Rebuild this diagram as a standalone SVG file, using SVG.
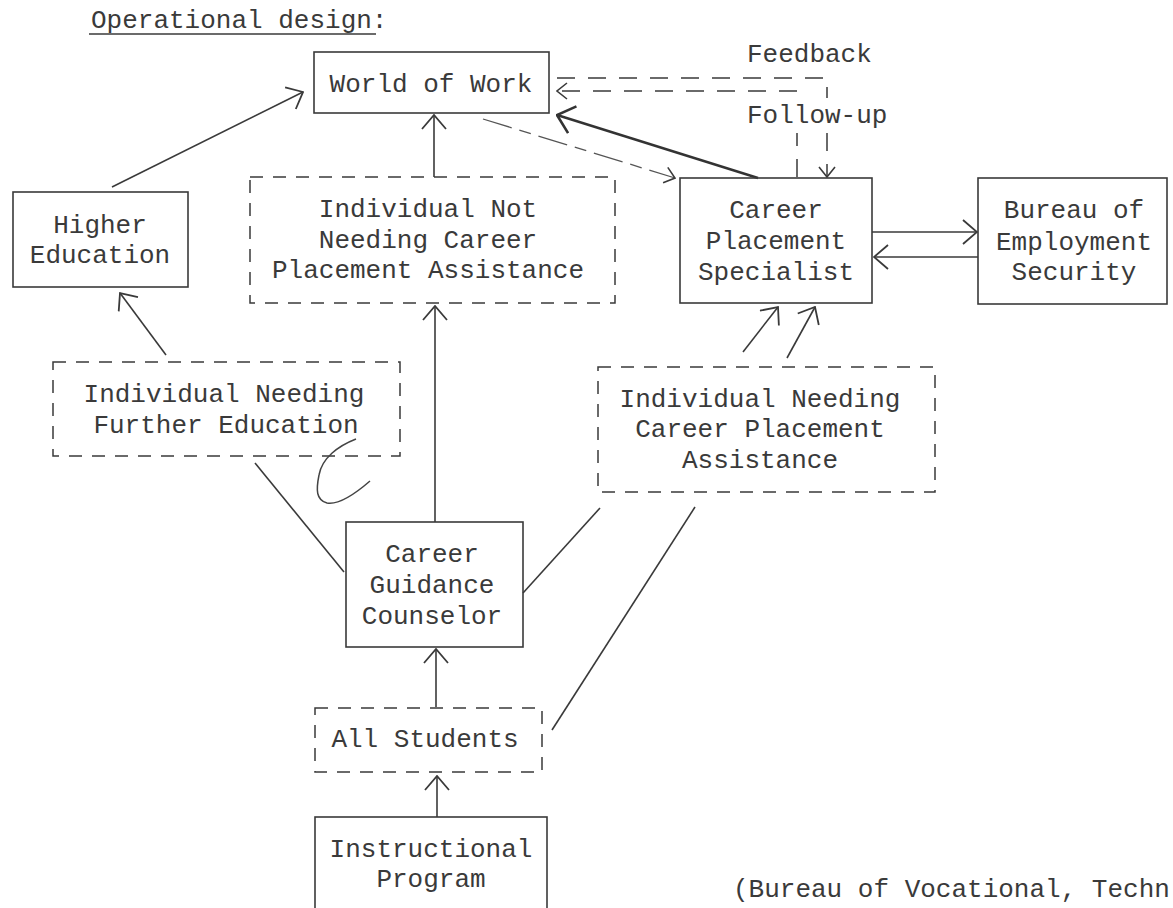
<svg xmlns="http://www.w3.org/2000/svg" width="1173" height="908" viewBox="0 0 1173 908">
<style>
  text { font-family: "Liberation Mono", "DejaVu Sans Mono", monospace; font-size: 26px; fill: #3a3a3a; }
  .c { text-anchor: middle; }
  .box { fill: none; stroke: #3a3a3a; stroke-width: 1.6; }
  .dbox { fill: none; stroke: #3a3a3a; stroke-width: 1.5; stroke-dasharray: 13 10; }
  .ln { fill: none; stroke: #3a3a3a; stroke-width: 1.6; }
  .thick { fill: none; stroke: #333; stroke-width: 2.4; }
  .fb { fill: none; stroke: #3a3a3a; stroke-width: 1.5; stroke-dasharray: 18 13; }
  .dl { fill: none; stroke: #555; stroke-width: 1.3; stroke-dasharray: 30 8 12 8; }
</style>
<defs>
  <marker id="arr" viewBox="0 0 16 26" refX="15" refY="13" markerWidth="16" markerHeight="26" markerUnits="userSpaceOnUse" orient="auto">
    <path d="M1,1 L15,13 L1,25" fill="none" stroke="#3a3a3a" stroke-width="1.8"/>
  </marker>
  <marker id="arrS" viewBox="0 0 12 18" refX="11" refY="9" markerWidth="12" markerHeight="18" markerUnits="userSpaceOnUse" orient="auto">
    <path d="M1,1 L11,9 L1,17" fill="none" stroke="#3a3a3a" stroke-width="1.6"/>
  </marker>
  <marker id="arrB" viewBox="0 0 18 30" refX="17" refY="15" markerWidth="18" markerHeight="30" markerUnits="userSpaceOnUse" orient="auto">
    <path d="M1,1 L17,15 L1,29" fill="none" stroke="#333" stroke-width="2.6"/>
  </marker>
</defs>
<rect width="1173" height="908" fill="#ffffff"/>

<g id="title">
  <text x="91" y="28">Operational design:</text>
  <line x1="89" y1="34" x2="376" y2="34" class="ln" stroke-width="1.3"/>
</g>

<g id="labels">
  <text x="747" y="62">Feedback</text>
  <text x="747" y="123">Follow-up</text>
</g>

<g id="connectors">
  <line x1="112" y1="187" x2="303" y2="92" class="ln" marker-end="url(#arr)"/>
  <line x1="434" y1="177" x2="434" y2="115" class="ln" marker-end="url(#arr)"/>
  <line x1="483" y1="119" x2="675" y2="178" class="dl" marker-end="url(#arrS)"/>
  <line x1="758" y1="178" x2="557" y2="115" class="thick" marker-end="url(#arrB)"/>
  <path d="M557,78 H827 V98" class="fb"/>
  <line x1="827" y1="133" x2="827" y2="177" class="fb" marker-end="url(#arrS)"/>
  <line x1="797" y1="177" x2="797" y2="133" class="fb"/>
  <line x1="797" y1="91" x2="557" y2="91" class="fb" marker-end="url(#arrS)"/>
  <line x1="872" y1="232" x2="977" y2="232" class="ln" marker-end="url(#arr)"/>
  <line x1="978" y1="257" x2="874" y2="257" class="ln" marker-end="url(#arr)"/>
  <line x1="166" y1="355" x2="120" y2="293" class="ln" marker-end="url(#arr)"/>
  <line x1="435" y1="522" x2="435" y2="306" class="ln" marker-end="url(#arr)"/>
  <line x1="743" y1="352" x2="778" y2="307" class="ln" marker-end="url(#arr)"/>
  <line x1="787" y1="358" x2="815" y2="307" class="ln" marker-end="url(#arr)"/>
  <line x1="255" y1="463" x2="344" y2="572" class="ln"/>
  <line x1="523" y1="593" x2="600" y2="508" class="ln"/>
  <line x1="552" y1="730" x2="695" y2="507" class="ln"/>
  <line x1="436" y1="707" x2="436" y2="649" class="ln" marker-end="url(#arr)"/>
  <line x1="437" y1="817" x2="437" y2="776" class="ln" marker-end="url(#arr)"/>
</g>

<g id="world-of-work">
  <rect x="314" y="52" width="235" height="61" class="box"/>
  <text x="431" y="92" class="c">World of Work</text>
</g>

<g id="higher-education">
  <rect x="13" y="192" width="175" height="95" class="box"/>
  <text x="100" y="233" class="c">Higher</text>
  <text x="100" y="263" class="c">Education</text>
</g>

<g id="individual-not-needing">
  <rect x="250" y="177" width="365" height="126" class="dbox"/>
  <text x="428" y="217" class="c">Individual Not</text>
  <text x="428" y="248" class="c">Needing Career</text>
  <text x="428" y="278" class="c">Placement Assistance</text>
</g>

<g id="career-placement-specialist">
  <rect x="680" y="178" width="192" height="125" class="box"/>
  <text x="776" y="218" class="c">Career</text>
  <text x="776" y="249" class="c">Placement</text>
  <text x="776" y="280" class="c">Specialist</text>
</g>

<g id="bureau-employment-security">
  <rect x="978" y="178" width="189" height="126" class="box"/>
  <text x="1074" y="218" class="c">Bureau of</text>
  <text x="1074" y="250" class="c">Employment</text>
  <text x="1074" y="280" class="c">Security</text>
</g>

<g id="individual-needing-further-education">
  <rect x="53" y="362" width="347" height="94" class="dbox"/>
  <text x="224" y="402" class="c">Individual Needing</text>
  <text x="226" y="433" class="c">Further Education</text>
</g>

<g id="individual-needing-placement">
  <rect x="598" y="367" width="337" height="125" class="dbox"/>
  <text x="760" y="407" class="c">Individual Needing</text>
  <text x="760" y="437" class="c">Career Placement</text>
  <text x="760" y="468" class="c">Assistance</text>
</g>

<g id="career-guidance-counselor">
  <rect x="346" y="522" width="177" height="125" class="box"/>
  <text x="432" y="562" class="c">Career</text>
  <text x="432" y="593" class="c">Guidance</text>
  <text x="432" y="624" class="c">Counselor</text>
</g>

<g id="all-students">
  <rect x="315" y="708" width="227" height="64" class="dbox"/>
  <text x="425" y="747" class="c">All Students</text>
</g>

<g id="instructional-program">
  <rect x="315" y="817" width="232" height="110" class="box"/>
  <text x="431" y="857" class="c">Instructional</text>
  <text x="431" y="887" class="c">Program</text>
</g>

<g id="source">
  <text x="733" y="897">(Bureau of Vocational, Techn</text>
</g>

<g id="handmarks">
  <path d="M356,439 C338,446 322,458 319,475 C316,490 316,500 327,503 C338,505 355,494 370,481" fill="none" stroke="#444" stroke-width="1.5"/>
</g>
</svg>
